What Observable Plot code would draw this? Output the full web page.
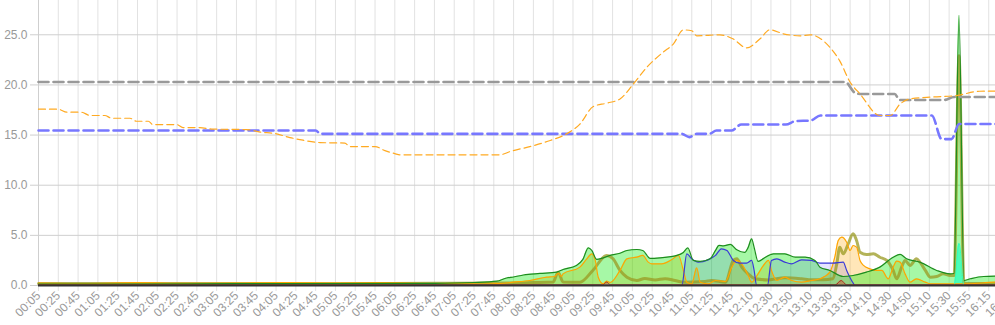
<!DOCTYPE html>
<html><head><meta charset="utf-8">
<script src="https://cdn.jsdelivr.net/npm/d3@7"></script>
<script src="https://cdn.jsdelivr.net/npm/@observablehq/plot@0.6"></script>
<style>html,body{margin:0;padding:0;overflow:hidden;background:#fff}#chart svg{max-width:none !important;display:block}</style>
</head><body><div id="chart"></div>
<script>
// Category tick labels (one every 4 data points)
const tickLabels = ["00:05","00:25","00:45","01:05","01:25","01:45","02:05","02:25","02:45","03:05",
  "03:25","03:45","04:05","04:25","04:45","05:05","05:25","05:45","06:05","06:25",
  "06:45","07:05","07:25","07:45","08:05","08:25","08:45","09:05","09:25","09:45",
  "10:05","10:25","10:45","11:05","11:25","11:45","12:10","12:30","12:50","13:10",
  "13:30","13:50","14:10","14:30","14:50","15:10","15:30","15:55","16:15","16:35"];
const yTicks = [0, 5, 10, 15, 20, 25];

// Series: [data index, value]
const grayDashed = [[0,20.3],[163,20.3],[165,19.2],[166,19.1],[173,19.1],[174,18.5],[183,18.5],[185,18.8],[197,18.8]];
const blueDashed = [[0,15.45],[56,15.45],[57,15.12],[130,15.12],[131.5,14.8],[133,15.12],[135.5,15.12],[137,15.45],[140,15.45],[142,16.05],[151,16.05],[153,16.4],[156,16.45],[158,16.95],[180.5,16.95],[182.5,14.6],[184.5,14.6],[186,16.1],[197,16.1]];
const orangeDashed = [[0,17.58],[4,17.58],[5.7,17.28],[8.7,17.28],[10.4,16.95],[13.4,16.95],[14.8,16.68],[18.5,16.68],[19.8,16.38],[22.2,16.38],[23.1,16.05],[27.9,16.05],[29.2,15.75],[32.6,15.75],[35,15.6],[42,15.55],[44.8,15.3],[47.8,15.15],[50.8,14.75],[52.8,14.55],[56.9,14.25],[61.9,14.2],[62.9,13.85],[68,13.85],[70,13.45],[72,13.15],[73,13.03],[93.2,13.03],[95.3,13.36],[99.9,13.93],[103.4,14.46],[106.7,15.12],[109.4,16.1],[112.1,17.85],[114.8,18.18],[117.5,18.6],[120.2,20.1],[122.9,21.76],[126.2,23.26],[128.3,24.1],[130.3,25.49],[132,25.4],[133,24.9],[137.7,25.0],[140.3,24.6],[143.1,23.7],[145.8,24.6],[147.8,25.5],[150.5,25.1],[153.9,24.9],[155.9,25.0],[159.9,23.76],[161.9,22.4],[164,20.27],[166,19.1],[170,16.95],[172.1,16.95],[174.1,18.1],[176.1,18.6],[180.8,18.8],[185.5,18.94],[190.2,19.37],[197,19.4]];

const greenTotal = [[0,0.15],[20,0.15],[40,0.18],[60,0.2],[80,0.22],[88,0.3],[92.6,0.43],[94.6,0.75],[96,0.85],[98,1.05],[101.3,1.2],[104.7,1.33],[106,1.6],[108.7,2.0],[110,2.6],[111.1,3.76],[111.8,3.5],[112.8,2.6],[114.1,2.76],[115.5,3.0],[117.5,3.22],[118.9,3.49],[120.9,3.59],[122.1,3.49],[123.6,2.7],[125.6,2.76],[129,3.0],[130.3,3.3],[131.2,3.75],[132.3,2.5],[133.7,2.4],[135.7,2.66],[136.8,3.5],[137.5,4.0],[138.4,3.95],[139.8,4.1],[141.1,3.56],[142.7,3.3],[143.4,3.8],[144.1,4.65],[144.6,3.8],[145.4,2.4],[146.8,2.8],[148.5,3.16],[150.8,3.16],[152.9,2.82],[154.9,2.82],[156.9,2.5],[157.9,1.83],[159.9,1.5],[162.6,0.9],[164.6,1.0],[167.3,1.33],[170,1.83],[172.7,2.82],[174.1,3.1],[175.4,2.66],[178.1,2.33],[181.5,1.5],[184.2,1.16],[185,1.2],[186,26.95],[187,0.5],[188.3,0.67],[191,0.9],[197,0.95]];
const orangeLoad = [[0,0.25],[10,0.2],[20,0.28],[30,0.22],[40,0.25],[50,0.3],[60,0.25],[70,0.28],[80,0.2],[90,0.25],[93.3,0.2],[95.9,0.33],[99.3,0.5],[102.7,0.83],[104.3,0.9],[105,1.2],[105.7,0.9],[106,1.16],[109.4,1.83],[110.8,2.66],[111.8,3.16],[112.5,2.5],[113.1,0.83],[114.1,0.17],[114.8,0.45],[115.5,0.3],[117.5,1.5],[118.9,2.66],[120.9,2.83],[122.1,3.0],[123.2,2.33],[123.9,2.16],[125.9,2.16],[127.9,2.56],[129.3,3.0],[130.3,1.5],[131,0.33],[132,0.17],[133,1.76],[133.7,0.33],[135.3,0.17],[136.8,0.5],[138.8,0.4],[140.1,1.83],[141.1,2.5],[142.1,2.16],[143.4,1.0],[144.1,0.33],[145.4,1.16],[146.5,2.0],[147.5,2.5],[148.1,1.5],[149.2,0.5],[150.8,0.83],[152.2,0.5],[154.2,0.33],[156.2,0.5],[157.9,0.67],[159.9,1.33],[160.9,2.82],[161.6,4.49],[162.3,4.82],[163.3,4.32],[164,3.49],[164.6,3.99],[165.3,3.82],[166,2.5],[166.7,2.0],[168,1.66],[169.4,1.5],[170.4,1.5],[171.7,0.67],[172.7,1.83],[173.4,2.43],[174.1,2.33],[175.1,1.16],[176.1,0.33],[177.4,0.67],[179.2,0.33],[180.2,0.17],[185,0.17],[188,0.17],[193,0.33],[197,0.35]];
const oliveLoad = [[0,0.2],[30,0.2],[60,0.2],[80,0.22],[95,0.25],[100,0.3],[104,0.35],[105,1.33],[106,0.35],[109.4,0.33],[112,1.5],[114.8,3.0],[116.1,2.66],[117.5,1.5],[118.9,0.83],[120.9,0.5],[122.5,0.7],[124.6,0.56],[126.6,0.67],[128.6,0.5],[130.4,0.33],[134.7,0.4],[136,0.5],[138.8,0.33],[140.4,2.5],[141.1,2.66],[142.1,1.83],[143.4,1.16],[144.8,0.67],[147.5,0.56],[150.8,0.77],[154.2,0.67],[156.2,0.57],[158.5,0.57],[160.5,0.67],[161.3,2.16],[161.9,3.82],[162.6,3.16],[163.6,4.15],[164.6,5.15],[165.3,4.49],[166,3.32],[167.3,3.09],[168.7,3.16],[170,2.82],[171.4,2.5],[172.7,1.5],[173.4,0.67],[174.4,1.83],[175.1,2.5],[176.1,2.0],[177.4,2.66],[178.1,2.33],[179.2,1.5],[180.2,0.83],[181.5,0.9],[182.8,1.16],[184.2,1.0],[185,1.0],[186,22.9],[187,0.2],[197,0.2]];
const blueLoad = [[0,0.02],[130,0.02],[131,3.16],[132,2.66],[133.3,2.33],[135.3,2.56],[136.8,3.0],[138,3.66],[139.1,3.5],[140.4,2.5],[141.7,2.23],[143.1,2.23],[144.1,2.5],[144.6,1.5],[145.1,0.02],[147.3,0.02],[148.1,2.5],[149.2,2.66],[150.8,2.33],[152.2,2.16],[154.2,2.56],[156.2,2.5],[157.9,2.23],[160.5,2.23],[162.6,2.33],[163.3,1.5],[164.3,0.5],[165,0.02],[197,0.02]];
const redLoad = [[0,0.06],[114,0.06],[114.8,0.35],[115.6,0.06],[161,0.06],[162.2,0.5],[163.3,0.06],[197,0.06]];
const aquaLoad = [[0,0],[185,0],[186,4.2],[187,0],[197,0]];

const xTicks = tickLabels.map((_, i) => i * 4);
const X = d => d[0], Y = d => d[1];
const C = "monotone-x";

const chart = Plot.plot({
  width: 1030, height: 325,
  marginLeft: 38, marginRight: 2.2, marginTop: 0, marginBottom: 40,
  x: {domain: [0, 200], axis: null},
  y: {domain: [0, 28.42], axis: null},
  style: {fontFamily: "'Helvetica Neue', Helvetica, Arial, 'Liberation Sans', sans-serif", fontSize: "12px", background: "#fff", overflow: "visible", maxWidth: "none"},
  marks: [
    Plot.gridX(xTicks, {stroke: "#e2e2e2", strokeOpacity: 1}),
    Plot.gridY(yTicks, {stroke: "#cfcfcf", strokeOpacity: 1}),
    Plot.axisY(yTicks, {tickFormat: d3.format(".1f"), tickSize: 8, tickPadding: 3, stroke: "#cfcfcf", strokeOpacity: 1, fill: "#999", fontSize: 12}),
    Plot.axisX(xTicks, {tickFormat: d => tickLabels[d / 4], tickRotate: -45, tickSize: 6, tickPadding: 2, stroke: "#e2e2e2", strokeOpacity: 1, fill: "#999", fontSize: 12}),
    Plot.ruleX([0], {stroke: "#cfcfcf"}),
    // filled areas
    Plot.areaY(orangeLoad, {x: X, y1: 0, y2: Y, curve: C, fill: "#ffa500", fillOpacity: 0.28}),
    Plot.areaY(greenTotal, {x: X, y1: 0, y2: Y, curve: C, fill: "#00eb00", fillOpacity: 0.35}),
    Plot.areaY(blueLoad, {x: X, y1: 0, y2: Y, curve: C, fill: "#0000ff", fillOpacity: 0.1}),
    Plot.areaY(redLoad, {x: X, y1: 0, y2: Y, curve: C, fill: "#ff0000", fillOpacity: 0.3}),
    Plot.areaY(aquaLoad, {x: X, y1: 0, y2: Y, curve: C, fill: "#33ffbb", fillOpacity: 0.8}),
    // lines
    Plot.line(oliveLoad, {x: X, y: Y, curve: C, stroke: "#999922", strokeOpacity: 0.75, strokeWidth: 3}),
    Plot.line(orangeLoad, {x: X, y: Y, curve: C, stroke: "#ffa500", strokeWidth: 1.2}),
    Plot.line(blueLoad, {x: X, y: Y, curve: C, stroke: "#3a3ad8", strokeWidth: 1.2}),
    Plot.line(greenTotal, {x: X, y: Y, curve: C, stroke: "#1e8c1e", strokeWidth: 1.2}),
    Plot.line(aquaLoad, {x: X, y: Y, curve: C, stroke: "#33ffbb", strokeWidth: 1}),
    Plot.line(redLoad, {x: X, y: Y, curve: C, stroke: "#a83020", strokeWidth: 1}),
    Plot.ruleY([0], {stroke: "#333", strokeWidth: 2}),
    // dashed lines
    Plot.line(grayDashed, {x: X, y: Y, curve: C, stroke: "#999", strokeWidth: 2.6, strokeDasharray: "10,5"}),
    Plot.line(blueDashed, {x: X, y: Y, curve: C, stroke: "#7777ff", strokeWidth: 2.6, strokeDasharray: "10,5"}),
    Plot.line(orangeDashed, {x: X, y: Y, curve: C, stroke: "#ffaa22", strokeWidth: 1.2, strokeDasharray: "7,4"})
  ]
});
document.getElementById("chart").appendChild(chart);
</script>
</body></html>
